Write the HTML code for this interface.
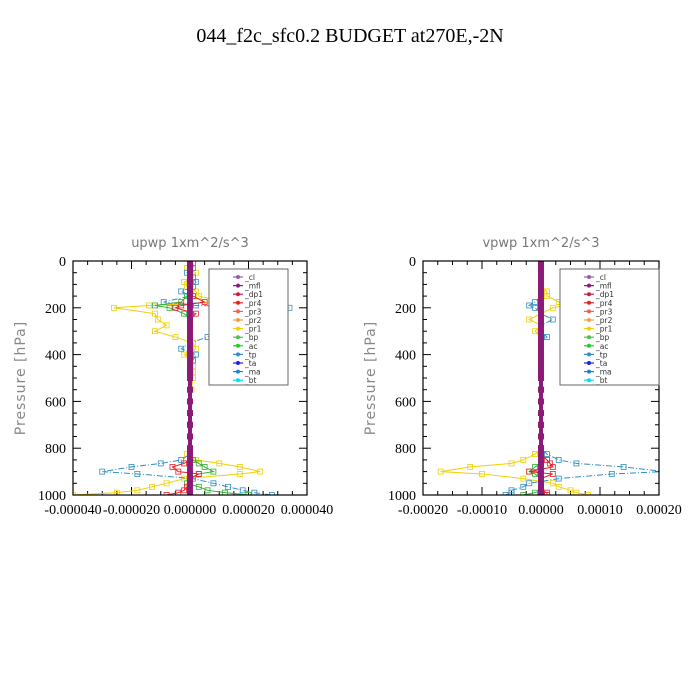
<!DOCTYPE html>
<html><head><meta charset="utf-8">
<style>
html,body{margin:0;padding:0;background:#fff;}
svg{display:block;}
</style></head>
<body>
<svg id="chart" width="700" height="700" xmlns="http://www.w3.org/2000/svg">
<text x="350" y="42" text-anchor="middle" font-family="Liberation Serif, serif" font-size="20" fill="#000">044_f2c_sfc0.2  BUDGET at270E,-2N</text>
</svg>
<script>
const levels=[10,30,50,70,90,110,130,150,175,190,200,225,250,275,300,325,350,375,400,425,450,475,500,550,600,650,700,750,800,825,850,865,880,900,910,930,950,965,980,990,1000];
// upwp panel (units 1e-5)
const upPr1=[0.1,-0.1,0.2,0.1,-0.2,-0.1,0.2,0.3,1.2,-1.4,-2.6,-1.2,-1.1,-0.8,-1.2,-0.5,0.1,0.2,-0.2,0.1,0.1,0.1,0.1,0.05,0,0,0,0,0,-0.1,0.2,1.0,1.7,2.4,1.7,-0.2,-0.8,-1.3,-1.8,-2.5,-4.0];
const upTp=[0.1,0.1,-0.1,0.1,0.2,0.1,-0.3,0,-0.9,0.2,3.4,1.2,0.9,0.8,1.1,0.6,0,-0.3,0.2,0.1,0,0,0,0,0,0,0,0,0,0,-0.3,-1.0,-2.0,-3.0,-1.8,0.1,0.8,1.3,1.8,2.2,2.8];
const upBp=[0,0,0,0,0,0,0,-0.1,-0.3,-1.2,-0.7,-0.2,0,0,0,0,0,0,0,0,0,0,0,0,0,0,0,0,0,0,0.1,0.3,0.5,0.8,0.3,0,-0.1,0.3,0.6,1.2,2.0];
const upPr4=[0,0,0,0,0,0,0,0.1,0.5,-0.3,-0.5,0.2,0,0,0,0,0,0,0,0,0,0,0,0,0,0,0,0,0,0,0,-0.2,-0.6,-0.4,0.3,0,0,-0.1,-0.2,-0.4,-0.8];
const upMfl=levels.map(()=>0);
// vpwp panel (units 1e-4)
const vpPr1=[0,0,0,0,0,0,0.01,0.01,0.03,0.04,0.02,0,-0.02,0,-0.01,0,0,0,0,0,0,0,0,0,0,0,0,0,0,-0.01,-0.03,-0.05,-0.12,-0.17,-0.1,-0.03,0.02,0.03,0.05,0.06,0.08];
const vpTp=[0,0,0,0,0,0,0,0,-0.01,-0.02,-0.01,0,0.02,0,0,0.01,0,0,0,0,0,0,0,0,0,0,0,0,0,0.01,0.03,0.06,0.14,0.21,0.12,0.03,-0.02,-0.03,-0.05,-0.05,-0.06];
const vpBp=[0,0,0,0,0,0,0,0,0,0,0,0,0,0,0,0,0,0,0,0,0,0,0,0,0,0,0,0,0,0,0,0,-0.01,-0.02,-0.01,0,0,0,0,-0.01,-0.03];
const vpPr4=[0,0,0,0,0,0,0,0,0,0,0,0,0,0,0,0,0,0,0,0,0,0,0,0,0,0,0,0,0,0,0.01,0.015,0.02,-0.02,0.02,0,0,0,0,0.01,0.01];
const vpMfl=levels.map(()=>0);
const upTicks=["-0.000040","-0.000020","0.000000","0.000020","0.000040"];
const vpTicks=["-0.00020","-0.00010","0.00000","0.00010","0.00020"];
const yTicks=[0,200,400,600,800,1000];
const legendNames=["_cl","_mfl","_dp1","_pr4","_pr3","_pr2","_pr1","_bp","_ac","_tp","_ta","_ma","_bt"];
const legendColors=["#9b59b6","#8b1a7a","#c0204a","#e8202a","#f06060","#f0a040","#f0d000","#50c050","#20d020","#3090c0","#2020e0","#2080d0","#00e0f0"];

const NS="http://www.w3.org/2000/svg";
const svg=document.getElementById('chart');
function mk(tag,attrs,parent){const e=document.createElementNS(NS,tag);for(const k in attrs)e.setAttribute(k,attrs[k]);(parent||svg).appendChild(e);return e;}

function panel(cfg){
  const g=mk('g',{});
  
  
  const L=cfg.x0,R=cfg.x1,T=261,B=495;
  const xs=v=>L+(v-cfg.min)/(cfg.max-cfg.min)*(R-L);
  const ys=p=>T+p/1000*(B-T);
  const clipId='clip'+cfg.id;
  const cp=mk('clipPath',{id:clipId},g);mk('rect',{x:L,y:T,width:R-L,height:B-T},cp);
  const t=mk('text',{x:(L+R)/2,y:247,'text-anchor':'middle','font-family':'DejaVu Sans, sans-serif','font-size':13,fill:'#777'},g);
  t.textContent=cfg.title;
  
  
  const yl=mk('text',{x:0,y:0,transform:`translate(${L-48},${(T+B)/2}) rotate(-90)`,'text-anchor':'middle','font-family':'DejaVu Sans, sans-serif','font-size':14,fill:'#888','letter-spacing':'1'},g);
  yl.textContent='Pressure [hPa]';
  
  
  // ticks
  for(let p=0;p<=1000;p+=50){const maj=p%200===0;const len=maj?8:4;
    mk('line',{x1:L,x2:L+len,y1:ys(p),y2:ys(p),stroke:'#000','stroke-width':1},g);
    mk('line',{x1:R,x2:R-len,y1:ys(p),y2:ys(p),stroke:'#000','stroke-width':1},g);}
  yTicks.forEach(p=>{const tx=mk('text',{x:L-7,y:ys(p)+5,'text-anchor':'end','font-family':'Liberation Serif, serif','font-size':14},g);tx.textContent=p;
    
    });
  const n=cfg.ticks.length;
  for(let i=0;i<=(n-1)*4;i++){const v=cfg.min+(cfg.max-cfg.min)*i/((n-1)*4);const maj=i%4===0;const len=maj?8:4;
    mk('line',{x1:xs(v),x2:xs(v),y1:B,y2:B-len,stroke:'#000'},g);
    mk('line',{x1:xs(v),x2:xs(v),y1:T,y2:T+len,stroke:'#000'},g);}
  cfg.ticks.forEach((lab,i)=>{const v=cfg.min+(cfg.max-cfg.min)*i/(n-1);
    const tx=mk('text',{x:xs(v),y:514,'text-anchor':'middle','font-family':'Liberation Serif, serif','font-size':14},g);tx.textContent=lab;
    
    });
  // series
  const sg=mk('g',{'clip-path':`url(#${clipId})`},g);
  cfg.series.forEach(s=>{
    const pts=s.vals.map((v,i)=>xs(v)+','+ys(levels[i])).join(' ');
    const pl=mk('polyline',{points:pts,fill:'none',stroke:s.color,'stroke-width':s.w||1,'stroke-dasharray':s.dash||''},sg);
    
    
    s.vals.forEach((v,i)=>{
      const m=mk('rect',{x:xs(v)-2.5,y:ys(levels[i])-2.5,width:5,height:5,fill:s.fill||'none',stroke:s.color,'stroke-width':0.8},sg);
      
      
    });
  });
  mk('rect',{x:L,y:T,width:R-L,height:B-T,fill:'none',stroke:'#000','stroke-width':1.2},g);
  // legend
  const lg=mk('g',{},g);
  
  
  const lx=cfg.lx,lw=cfg.lw;
  mk('rect',{x:lx,y:269,width:lw,height:116,fill:'#fff',stroke:'#666','stroke-width':1},lg);
  legendNames.forEach((nm,i)=>{const yy=277+i*8.6;
    const ent=mk('g',{},lg);
    
    
    mk('line',{x1:lx+24,x2:lx+34,y1:yy,y2:yy,stroke:legendColors[i],'stroke-width':1.2},ent);
    mk('circle',{cx:lx+29,cy:yy,r:2,fill:legendColors[i]},ent);
    const tx=mk('text',{x:lx+36,y:yy+3,'font-family':'DejaVu Sans, sans-serif','font-size':7.5,fill:'#333'},ent);tx.textContent=nm;});
}
panel({id:1,name:'upwp-panel',title:'upwp   1xm^2/s^3',x0:73,x1:307,min:-4,max:4,ticks:upTicks,lx:209,lw:79,
  series:[{key:'pr1',vals:upPr1,color:'#f0d000'},{key:'tp',vals:upTp,color:'#3090c0',dash:'6,2,1,2'},{key:'bp',vals:upBp,color:'#30b030'},{key:'pr4',vals:upPr4,color:'#e8202a'},{key:'mfl',vals:upMfl,color:'#8b1a7a',w:4,fill:'#8b1a7a'}]});
panel({id:2,name:'vpwp-panel',title:'vpwp   1xm^2/s^3',x0:423,x1:659,min:-0.2,max:0.2,ticks:vpTicks,lx:560,lw:99,
  series:[{key:'pr1',vals:vpPr1,color:'#f0d000'},{key:'tp',vals:vpTp,color:'#3090c0',dash:'6,2,1,2'},{key:'bp',vals:vpBp,color:'#30b030'},{key:'pr4',vals:vpPr4,color:'#e8202a'},{key:'mfl',vals:vpMfl,color:'#8b1a7a',w:4,fill:'#8b1a7a'}]});
</script>
</body></html>
